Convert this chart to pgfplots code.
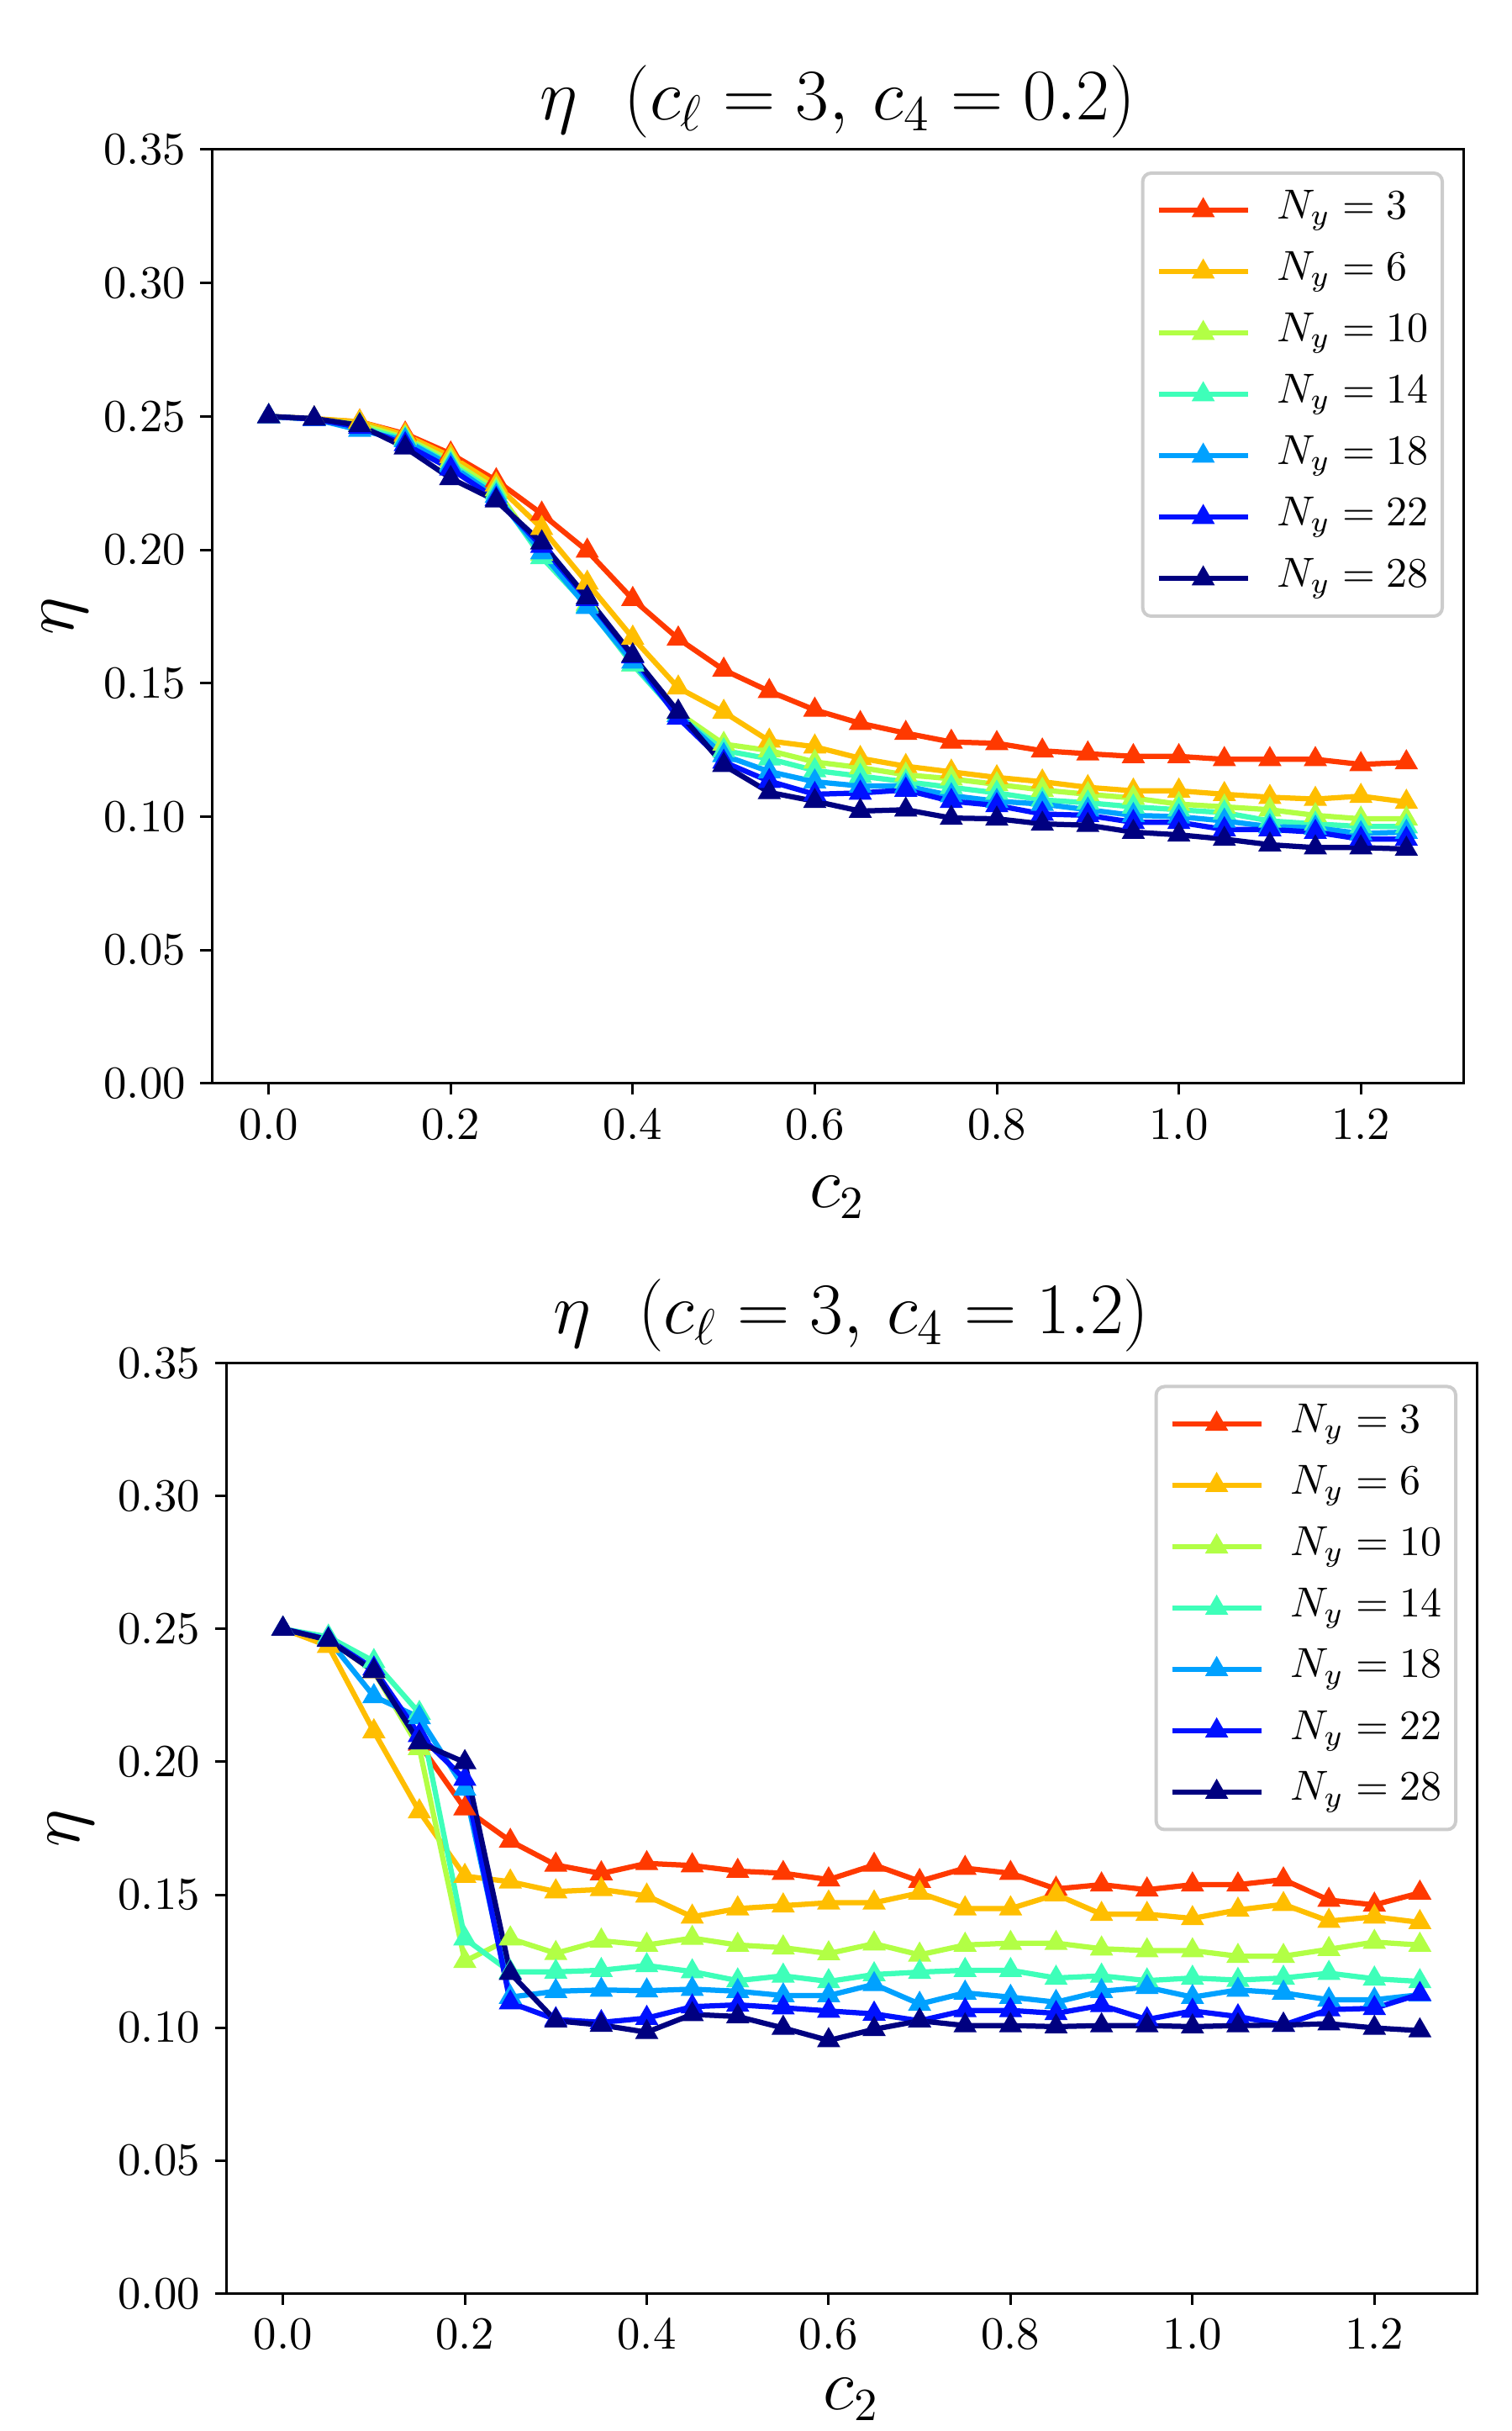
\documentclass[border=0pt]{standalone}
\usepackage{pgfplots}
\pgfplotsset{compat=1.18}
\usepackage{pgfplotstable}

\definecolor{c3}{rgb}{1,0.222,0}
\definecolor{c6}{rgb}{1,0.747,0}
\definecolor{c10}{rgb}{0.699,1,0.269}
\definecolor{c14}{rgb}{0.242,1,0.726}
\definecolor{c18}{rgb}{0,0.633,1}
\definecolor{c22}{rgb}{0,0.067,1}
\definecolor{c28}{rgb}{0,0,0.5}

\pgfplotstableread{
x n3 n6 n10 n14 n18 n22 n28
0.00 0.2500 0.2500 0.2500 0.2500 0.2500 0.2500 0.2500
0.05 0.2490 0.2492 0.2490 0.2490 0.2490 0.2490 0.2492
0.10 0.2480 0.2480 0.2470 0.2460 0.2449 0.2460 0.2467
0.15 0.2435 0.2430 0.2420 0.2415 0.2410 0.2395 0.2383
0.20 0.2360 0.2350 0.2335 0.2322 0.2316 0.2304 0.2268
0.25 0.2260 0.2244 0.2226 0.2214 0.2202 0.2190 0.2184
0.30 0.2135 0.2081 0.1984 0.1972 0.1990 0.2014 0.2027
0.35 0.1996 0.1876 0.1797 0.1790 0.1785 0.1815 0.1821
0.40 0.1815 0.1670 0.1570 0.1570 0.1580 0.1600 0.1604
0.45 0.1667 0.1483 0.1390 0.1380 0.1380 0.1370 0.1393
0.50 0.1550 0.1392 0.1272 0.1248 0.1230 0.1205 0.1193
0.55 0.1470 0.1284 0.1248 0.1217 0.1169 0.1133 0.1091
0.60 0.1400 0.1262 0.1205 0.1173 0.1131 0.1084 0.1058
0.65 0.1350 0.1219 0.1184 0.1152 0.1115 0.1089 0.1021
0.70 0.1313 0.1189 0.1157 0.1131 0.1115 0.1100 0.1026
0.75 0.1280 0.1168 0.1142 0.1110 0.1079 0.1058 0.0995
0.80 0.1275 0.1147 0.1121 0.1089 0.1058 0.1042 0.0992
0.85 0.1247 0.1131 0.1100 0.1063 0.1047 0.1010 0.0973
0.90 0.1236 0.1110 0.1084 0.1052 0.1026 0.1005 0.0968
0.95 0.1226 0.1097 0.1070 0.1037 0.1005 0.0979 0.0942
1.00 0.1226 0.1097 0.1047 0.1026 0.1000 0.0979 0.0932
1.05 0.1215 0.1084 0.1037 0.1015 0.0984 0.0952 0.0916
1.10 0.1215 0.1073 0.1026 0.0984 0.0963 0.0952 0.0895
1.15 0.1215 0.1066 0.1005 0.0973 0.0958 0.0942 0.0884
1.20 0.1196 0.1077 0.0992 0.0963 0.0937 0.0916 0.0884
1.25 0.1203 0.1055 0.0992 0.0963 0.0942 0.0916 0.0879
}\topdata

\pgfplotstableread{
x n3 n6 n10 n14 n18 n22 n28
0.00 0.2500 0.2500 0.2500 0.2500 0.2500 0.2500 0.2500
0.05 0.2460 0.2435 0.2460 0.2470 0.2460 0.2460 0.2458
0.10 0.2340 0.2114 0.2340 0.2378 0.2246 0.2350 0.2341
0.15 0.2067 0.1813 0.2051 0.2183 0.2167 0.2100 0.2072
0.20 0.1824 0.1570 0.1250 0.1335 0.1898 0.1935 0.1998
0.25 0.1702 0.1549 0.1335 0.1210 0.1115 0.1094 0.1205
0.30 0.1612 0.1512 0.1280 0.1210 0.1137 0.1031 0.1026
0.35 0.1580 0.1520 0.1327 0.1216 0.1142 0.1020 0.1010
0.40 0.1618 0.1496 0.1311 0.1234 0.1139 0.1036 0.0983
0.45 0.1610 0.1417 0.1337 0.1211 0.1145 0.1079 0.1050
0.50 0.1589 0.1448 0.1311 0.1177 0.1137 0.1086 0.1042
0.55 0.1581 0.1459 0.1301 0.1195 0.1121 0.1075 0.0999
0.60 0.1557 0.1470 0.1279 0.1174 0.1121 0.1063 0.0952
0.65 0.1612 0.1470 0.1316 0.1200 0.1163 0.1052 0.0994
0.70 0.1551 0.1507 0.1274 0.1209 0.1089 0.1026 0.1026
0.75 0.1600 0.1448 0.1311 0.1216 0.1131 0.1065 0.1008
0.80 0.1581 0.1448 0.1318 0.1216 0.1115 0.1065 0.1008
0.85 0.1522 0.1501 0.1318 0.1187 0.1096 0.1054 0.1004
0.90 0.1538 0.1427 0.1297 0.1195 0.1137 0.1084 0.1008
0.95 0.1519 0.1427 0.1290 0.1177 0.1152 0.1031 0.1008
1.00 0.1538 0.1411 0.1290 0.1187 0.1115 0.1063 0.1004
1.05 0.1538 0.1443 0.1269 0.1179 0.1142 0.1042 0.1008
1.10 0.1557 0.1464 0.1269 0.1187 0.1131 0.1010 0.1010
1.15 0.1480 0.1401 0.1295 0.1205 0.1105 0.1068 0.1015
1.20 0.1462 0.1417 0.1322 0.1184 0.1105 0.1073 0.0999
1.25 0.1507 0.1396 0.1311 0.1174 0.1124 0.1126 0.0989
}\botdata

\pgfplotsset{
  etaaxis/.style={
    scale only axis,
    xmin=-0.0625, xmax=1.3125, ymin=0, ymax=0.35,
    xtick={0,0.2,0.4,0.6,0.8,1.0,1.2},
    xticklabels={$0.0$,$0.2$,$0.4$,$0.6$,$0.8$,$1.0$,$1.2$},
    ytick={0,0.05,0.10,0.15,0.20,0.25,0.30,0.35},
    yticklabels={$0.00$,$0.05$,$0.10$,$0.15$,$0.20$,$0.25$,$0.30$,$0.35$},
    tick align=outside, tick pos=left, major tick length=2.7pt,
    axis line style={line width=0.6pt},
    every tick/.style={black, line width=0.6pt},
    tick label style={font=\fontsize{11.4}{13}\selectfont},
    title style={font=\fontsize{17.8}{21}\selectfont, at={(0.5,1)}, anchor=base, yshift=1pt},
    xlabel={$c_2$},
    xlabel style={font=\fontsize{16}{19}\selectfont, at={(axis description cs:0.5,0)}, anchor=base, yshift=-29.6pt},
    ylabel={$\eta$},
    ylabel style={font=\fontsize{16}{19}\selectfont, anchor=center},
    legend style={at={(1,1)}, anchor=north east, xshift=-4.6pt, yshift=-5.2pt,
      draw=black!20, line width=0.8pt, rounded corners=2pt, fill=white,
      font=\fontsize{10}{12}\selectfont,
      inner xsep=3.2pt, inner ysep=3.9pt, row sep=4.6pt,
      nodes={inner sep=0pt, text height=7pt, text depth=3pt},
      /tikz/every odd column/.style={column sep=6.3pt}},
    legend cell align=left,
    legend image code/.code={\draw[mark repeat=2,mark phase=2,line width=1.2pt] plot coordinates {(0pt,0pt) (10.6pt,0pt) (21.2pt,0pt)};},
    every axis plot/.append style={line width=1.25pt, mark=triangle*, mark size=2.8pt, mark options={solid, line width=0.4pt}},
  }
}

\begin{document}
\begin{tikzpicture}
\useasboundingbox (0,0) rectangle (359.6pt,578.4pt);

\begin{axis}[etaaxis,
  at={(50.4pt,320.6pt)}, anchor=south west,
  width=297.8pt, height=222.2pt,
  title={$\eta\ \,\left(c_\ell = 3,\, c_4 = 0.2\right)$},
  ylabel style={at={(axis description cs:-0.1175,0.5)}},
]
\addplot[color=c3] table[x=x,y=n3] {\topdata}; \addlegendentry{$N_y = 3$}
\addplot[color=c6] table[x=x,y=n6] {\topdata}; \addlegendentry{$N_y = 6$}
\addplot[color=c10] table[x=x,y=n10] {\topdata}; \addlegendentry{$N_y = 10$}
\addplot[color=c14] table[x=x,y=n14] {\topdata}; \addlegendentry{$N_y = 14$}
\addplot[color=c18] table[x=x,y=n18] {\topdata}; \addlegendentry{$N_y = 18$}
\addplot[color=c22] table[x=x,y=n22] {\topdata}; \addlegendentry{$N_y = 22$}
\addplot[color=c28] table[x=x,y=n28] {\topdata}; \addlegendentry{$N_y = 28$}
\end{axis}

\begin{axis}[etaaxis,
  at={(53.8pt,32.7pt)}, anchor=south west,
  width=297.6pt, height=221.4pt,
  title={$\eta\ \,\left(c_\ell = 3,\, c_4 = 1.2\right)$},
  xlabel style={yshift=2pt},
  ylabel style={at={(axis description cs:-0.124,0.5)}},
]
\addplot[color=c3] table[x=x,y=n3] {\botdata}; \addlegendentry{$N_y = 3$}
\addplot[color=c6] table[x=x,y=n6] {\botdata}; \addlegendentry{$N_y = 6$}
\addplot[color=c10] table[x=x,y=n10] {\botdata}; \addlegendentry{$N_y = 10$}
\addplot[color=c14] table[x=x,y=n14] {\botdata}; \addlegendentry{$N_y = 14$}
\addplot[color=c18] table[x=x,y=n18] {\botdata}; \addlegendentry{$N_y = 18$}
\addplot[color=c22] table[x=x,y=n22] {\botdata}; \addlegendentry{$N_y = 22$}
\addplot[color=c28] table[x=x,y=n28] {\botdata}; \addlegendentry{$N_y = 28$}
\end{axis}
\end{tikzpicture}
\end{document}
